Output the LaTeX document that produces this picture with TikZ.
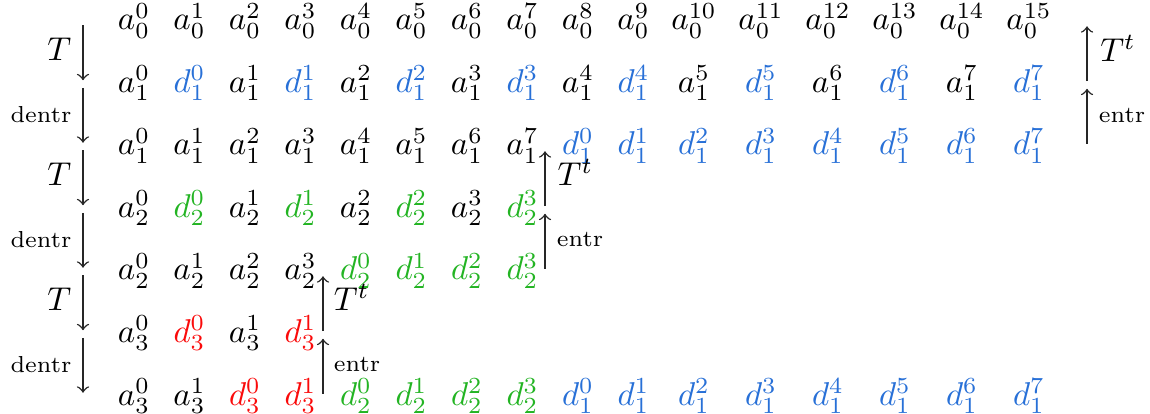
\documentclass[tikz,border=0pt]{standalone}
\definecolor{dblue}{RGB}{40,112,215}
\definecolor{dgreen}{RGB}{35,180,35}
\definecolor{dred}{RGB}{250,10,10}
\newcommand\Bd[2]{{\color{dblue}d_{#1}^{#2}}}
\newcommand\Gd[2]{{\color{dgreen}d_{#1}^{#2}}}
\newcommand\Rd[2]{{\color{dred}d_{#1}^{#2}}}
\begin{document}
\begin{tikzpicture}[x=0.303pt,y=-0.303pt,
  cell/.style={inner sep=0pt,anchor=base},
  mapar/.style={->,draw=black!85,line width=0.45pt,shorten <=1pt,shorten >=1.3pt},
  lbl/.style={inner sep=0pt},
  wlbl/.style={lbl,font=\scriptsize}]
\useasboundingbox (0,0) rectangle (1150,414);
% row 0
\foreach \c in {0,...,15}{
  \pgfmathsetmacro\xx{\c<10 ? 134+55.5*\c : 694+67*(\c-10)}
  \node[cell] (r0c\c) at (\xx,30) {$a_0^{\c}$};
}
% row 1
\foreach \c/\t in {0/{a_1^0},1/{\Bd{1}{0}},2/{a_1^1},3/{\Bd{1}{1}},4/{a_1^2},5/{\Bd{1}{2}},6/{a_1^3},7/{\Bd{1}{3}},8/{a_1^4},9/{\Bd{1}{4}},10/{a_1^5},11/{\Bd{1}{5}},12/{a_1^6},13/{\Bd{1}{6}},14/{a_1^7},15/{\Bd{1}{7}}}{
  \pgfmathsetmacro\xx{\c<10 ? 134+55.5*\c : 694+67*(\c-10)}
  \node[cell] (r1c\c) at (\xx,92.5) {$\t$};
}
% row 2
\foreach \c/\t in {0/{a_1^0},1/{a_1^1},2/{a_1^2},3/{a_1^3},4/{a_1^4},5/{a_1^5},6/{a_1^6},7/{a_1^7},8/{\Bd{1}{0}},9/{\Bd{1}{1}},10/{\Bd{1}{2}},11/{\Bd{1}{3}},12/{\Bd{1}{4}},13/{\Bd{1}{5}},14/{\Bd{1}{6}},15/{\Bd{1}{7}}}{
  \pgfmathsetmacro\xx{\c<10 ? 134+55.5*\c : 694+67*(\c-10)}
  \node[cell] (r2c\c) at (\xx,155) {$\t$};
}
% row 3
\foreach \c/\t in {0/{a_2^0},1/{\Gd{2}{0}},2/{a_2^1},3/{\Gd{2}{1}},4/{a_2^2},5/{\Gd{2}{2}},6/{a_2^3},7/{\Gd{2}{3}}}{
  \pgfmathsetmacro\xx{134+55.5*\c}
  \node[cell] (r3c\c) at (\xx,217.5) {$\t$};
}
% row 4
\foreach \c/\t in {0/{a_2^0},1/{a_2^1},2/{a_2^2},3/{a_2^3},4/{\Gd{2}{0}},5/{\Gd{2}{1}},6/{\Gd{2}{2}},7/{\Gd{2}{3}}}{
  \pgfmathsetmacro\xx{134+55.5*\c}
  \node[cell] (r4c\c) at (\xx,280) {$\t$};
}
% row 5
\foreach \c/\t in {0/{a_3^0},1/{\Rd{3}{0}},2/{a_3^1},3/{\Rd{3}{1}}}{
  \pgfmathsetmacro\xx{134+55.5*\c}
  \node[cell] (r5c\c) at (\xx,342.5) {$\t$};
}
% row 6
\foreach \c/\t in {0/{a_3^0},1/{a_3^1},2/{\Rd{3}{0}},3/{\Rd{3}{1}},4/{\Gd{2}{0}},5/{\Gd{2}{1}},6/{\Gd{2}{2}},7/{\Gd{2}{3}},8/{\Bd{1}{0}},9/{\Bd{1}{1}},10/{\Bd{1}{2}},11/{\Bd{1}{3}},12/{\Bd{1}{4}},13/{\Bd{1}{5}},14/{\Bd{1}{6}},15/{\Bd{1}{7}}}{
  \pgfmathsetmacro\xx{\c<10 ? 134+55.5*\c : 694+67*(\c-10)}
  \node[cell] (r6c\c) at (\xx,405) {$\t$};
}
% arrow anchor points
\foreach \k/\y in {0/22,1/84.5,2/147,3/209.5,4/272,5/334.5,6/397}{
  \coordinate (L\k) at (83,\y);
}
\coordinate (R0) at (1087,22);
\coordinate (R1) at (1087,84.5);
\coordinate (R2) at (1087,147);
\coordinate (M2) at (545,147);
\coordinate (M3) at (545,209.5);
\coordinate (M4) at (545,272);
\coordinate (N4) at (323,272);
\coordinate (N5) at (323,334.5);
\coordinate (N6) at (323,397);
% left arrows
\draw[mapar] (L0) -- node[lbl,midway,anchor=base east,xshift=-3.3pt,yshift=-2.3pt] {$T$} (L1);
\draw[mapar] (L1) -- node[wlbl,midway,anchor=base east,xshift=-3.3pt,yshift=-1.9pt] {dentr} (L2);
\draw[mapar] (L2) -- node[lbl,midway,anchor=base east,xshift=-3.3pt,yshift=-2.3pt] {$T$} (L3);
\draw[mapar] (L3) -- node[wlbl,midway,anchor=base east,xshift=-3.3pt,yshift=-1.9pt] {dentr} (L4);
\draw[mapar] (L4) -- node[lbl,midway,anchor=base east,xshift=-3.3pt,yshift=-2.3pt] {$T$} (L5);
\draw[mapar] (L5) -- node[wlbl,midway,anchor=base east,xshift=-3.3pt,yshift=-1.9pt] {dentr} (L6);
% right arrows
\draw[mapar] (R1) -- node[lbl,midway,anchor=base west,xshift=3.8pt,yshift=-2.5pt] {$T^t$} (R0);
\draw[mapar] (R2) -- node[wlbl,midway,anchor=base west,xshift=3.4pt,yshift=-2pt] {entr} (R1);
\draw[mapar] (M3) -- node[lbl,midway,anchor=base west,xshift=3.6pt,yshift=-2.1pt] {$T^t$} (M2);
\draw[mapar] (M4) -- node[wlbl,midway,anchor=base west,xshift=3.4pt,yshift=-1.6pt] {entr} (M3);
\draw[mapar] (N5) -- node[lbl,midway,anchor=base west,xshift=3.1pt,yshift=-2.1pt] {$T^t$} (N4);
\draw[mapar] (N6) -- node[wlbl,midway,anchor=base west,xshift=3.1pt,yshift=-1.6pt] {entr} (N5);
\end{tikzpicture}
\end{document}
